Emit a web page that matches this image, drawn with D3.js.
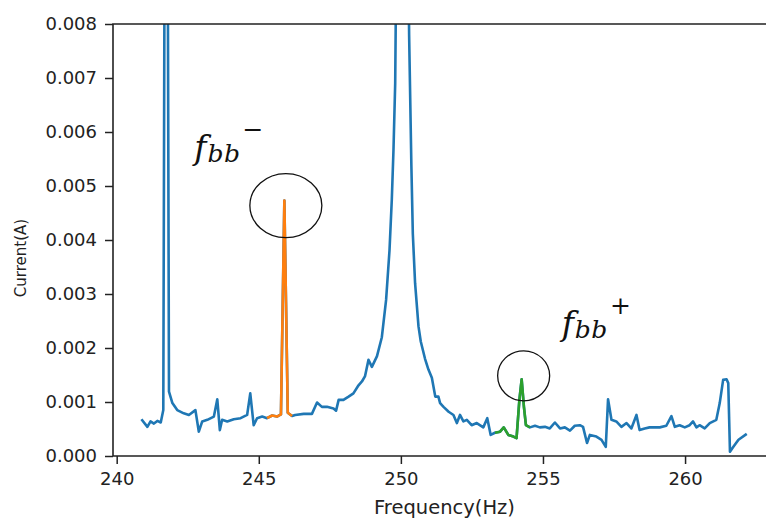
<!DOCTYPE html>
<html>
<head>
<meta charset="utf-8">
<script src="https://cdnjs.cloudflare.com/ajax/libs/d3/7.8.5/d3.min.js"></script>
<style>
  body { margin: 0; background: #fff; }
  .tick text { font-family: "DejaVu Sans", sans-serif; fill: #222; }
</style>
</head>
<body>
<div class="spectrum"></div>
<script>
var svgWidth = 766;
var svgHeight = 518;

// plot area (axes box is a bit wider than the picture, right side is cut off)
var margin = { top: 24, left: 113 };
var plotRight = 776;
var plotBottom = 456;

// spectrum: frequency (Hz) and current (A)
var freq = [
  240.87, 241.08, 241.19, 241.31, 241.43, 241.55, 241.64, 241.74, 241.84, 241.96,
  242.13, 242.36, 242.54, 242.77, 242.89, 243.01, 243.19, 243.42, 243.54, 243.63,
  243.71, 243.89, 244.12, 244.36, 244.59, 244.70, 244.82, 244.94, 245.12, 245.29,
  245.47, 245.64, 245.78, 245.90, 246.02, 246.17, 246.28, 246.58, 246.87, 247.05,
  247.22, 247.40, 247.63, 247.72, 247.81, 247.98, 248.16, 248.33, 248.51, 248.63,
  248.74, 248.86, 248.98, 249.16, 249.33, 249.48, 249.60, 249.68, 249.74, 249.80,
  249.92, 250.05, 250.17, 250.29, 250.37, 250.42, 250.50, 250.62, 250.70, 250.85,
  250.97, 251.09, 251.21, 251.32, 251.38, 251.50, 251.68, 251.85, 251.97, 252.08,
  252.20, 252.32, 252.49, 252.67, 252.90, 253.04, 253.16, 253.31, 253.49, 253.62,
  253.78, 253.96, 254.07, 254.17, 254.25, 254.33, 254.40, 254.54, 254.72, 254.89,
  255.07, 255.24, 255.42, 255.60, 255.77, 255.95, 256.12, 256.30, 256.41, 256.55,
  256.65, 256.88, 257.06, 257.21, 257.29, 257.41, 257.58, 257.76, 257.94, 258.11,
  258.29, 258.40, 258.58, 258.75, 258.93, 259.11, 259.34, 259.52, 259.64, 259.81,
  259.99, 260.16, 260.28, 260.40, 260.51, 260.69, 260.87, 261.10, 261.22, 261.34,
  261.46, 261.52, 261.58, 261.70, 261.88, 262.17
];

var current = [
  0.00068, 0.00054, 0.00064, 0.00060, 0.00065, 0.00062, 0.00085, 0.02000, 0.00119, 0.00098,
  0.00085, 0.00079, 0.00076, 0.00085, 0.00045, 0.00064, 0.00067, 0.00073, 0.00105, 0.00048,
  0.00067, 0.00064, 0.00068, 0.00070, 0.00076, 0.00116, 0.00057, 0.00070, 0.00073, 0.00070,
  0.00075, 0.00073, 0.00077, 0.00473, 0.00080, 0.00074, 0.00076, 0.00078, 0.00078, 0.00099,
  0.00091, 0.00091, 0.00088, 0.00084, 0.00104, 0.00104, 0.00110, 0.00116, 0.00131, 0.00138,
  0.00148, 0.00178, 0.00165, 0.00185, 0.00220, 0.00289, 0.00381, 0.00474, 0.00567, 0.00690,
  0.01400, 0.04500, 0.01400, 0.00780, 0.00536, 0.00412, 0.00320, 0.00240, 0.00212, 0.00180,
  0.00160, 0.00145, 0.00110, 0.00110, 0.00098, 0.00091, 0.00082, 0.00076, 0.00061, 0.00076,
  0.00064, 0.00067, 0.00057, 0.00061, 0.00053, 0.00070, 0.00039, 0.00043, 0.00045, 0.00053,
  0.00039, 0.00036, 0.00033, 0.00104, 0.00142, 0.00091, 0.00057, 0.00053, 0.00056, 0.00053,
  0.00054, 0.00051, 0.00062, 0.00051, 0.00053, 0.00047, 0.00056, 0.00057, 0.00054, 0.00024,
  0.00039, 0.00036, 0.00030, 0.00017, 0.00105, 0.00067, 0.00064, 0.00054, 0.00061, 0.00051,
  0.00076, 0.00048, 0.00051, 0.00053, 0.00053, 0.00053, 0.00056, 0.00074, 0.00054, 0.00057,
  0.00053, 0.00057, 0.00064, 0.00053, 0.00057, 0.00051, 0.00061, 0.00067, 0.00098, 0.00141,
  0.00142, 0.00135, 0.00008, 0.00017, 0.00030, 0.00041
];

// sideband windows highlighted in the picture
var lowerBand = [245.29, 246.17];
var upperBand = [253.31, 254.54];

var xTicks = [240, 245, 250, 255, 260];
var yTicks = [0, 0.001, 0.002, 0.003, 0.004, 0.005, 0.006, 0.007, 0.008];

var spectrum = freq.map(function (f, i) { return { f: f, c: current[i] }; });
var lowerData = spectrum.filter(d => d.f >= lowerBand[0] && d.f <= lowerBand[1]);
var upperData = spectrum.filter(d => d.f >= upperBand[0] && d.f <= upperBand[1]);

var svg = d3.select(".spectrum")
  .append("svg")
  .attr("width", svgWidth)
  .attr("height", svgHeight)
  .style("display", "block");

// scales
var x = d3.scaleLinear()
  .domain([239.87, 263.2])
  .range([margin.left, plotRight]);

var y = d3.scaleLinear()
  .domain([0, 0.008])
  .range([plotBottom, margin.top]);

svg.append("clipPath")
  .attr("id", "plotClip")
  .append("rect")
  .attr("x", margin.left)
  .attr("y", margin.top)
  .attr("width", plotRight - margin.left)
  .attr("height", plotBottom - margin.top);

var line = d3.line()
  .x(d => x(d.f))
  .y(d => y(d.c));

var lines = svg.append("g").attr("clip-path", "url(#plotClip)");

lines.append("path")
  .datum(spectrum)
  .attr("d", line)
  .attr("fill", "none")
  .attr("stroke", "#1f77b4")
  .attr("stroke-width", 2.6)
  .attr("stroke-linejoin", "round");

lines.append("path")
  .datum(lowerData)
  .attr("d", line)
  .attr("fill", "none")
  .attr("stroke", "#ff7f0e")
  .attr("stroke-width", 2.6)
  .attr("stroke-linejoin", "round");

lines.append("path")
  .datum(upperData)
  .attr("d", line)
  .attr("fill", "none")
  .attr("stroke", "#2ca02c")
  .attr("stroke-width", 2.6)
  .attr("stroke-linejoin", "round");

// axes
var xAxis = svg.append("g")
  .attr("transform", `translate(0, ${plotBottom})`)
  .call(d3.axisBottom(x).tickValues(xTicks).tickSize(8).tickPadding(8).tickFormat(d3.format("d")));

var yAxis = svg.append("g")
  .attr("transform", `translate(${margin.left}, 0)`)
  .call(d3.axisLeft(y).tickValues(yTicks).tickSize(8).tickPadding(8).tickFormat(d3.format(".3f")));

[xAxis, yAxis].forEach(function (ax) {
  ax.select(".domain").remove();
  ax.selectAll(".tick line").attr("stroke", "#222").attr("stroke-width", 1.5);
  ax.selectAll(".tick text").attr("font-size", 18);
});

// spines (top, left, bottom)
svg.append("path")
  .attr("d", `M${plotRight},${margin.top}H${margin.left}V${plotBottom}H${plotRight}`)
  .attr("fill", "none")
  .attr("stroke", "#222")
  .attr("stroke-width", 1.6);

// axis labels
svg.append("text")
  .attr("x", (margin.left + plotRight) / 2)
  .attr("y", 514)
  .attr("text-anchor", "middle")
  .attr("font-family", "DejaVu Sans, sans-serif")
  .attr("font-size", 19.5)
  .attr("fill", "#222")
  .text("Frequency(Hz)");

svg.append("text")
  .attr("transform", "translate(26, 258) rotate(-90)")
  .attr("text-anchor", "middle")
  .attr("font-family", "DejaVu Sans, sans-serif")
  .attr("font-size", 15)
  .attr("fill", "#222")
  .text("Current(A)");

// annotations: circled sideband peaks and their labels
var lowerPeak = lowerData.reduce((a, b) => (b.c > a.c ? b : a));
var upperPeak = upperData.reduce((a, b) => (b.c > a.c ? b : a));

svg.append("ellipse")
  .attr("cx", x(lowerPeak.f) + 1.5)
  .attr("cy", y(lowerPeak.c) + 5)
  .attr("rx", 36)
  .attr("ry", 32)
  .attr("fill", "none")
  .attr("stroke", "#111")
  .attr("stroke-width", 1.3);

svg.append("ellipse")
  .attr("cx", x(upperPeak.f) + 2)
  .attr("cy", y(upperPeak.c) - 3.5)
  .attr("rx", 26)
  .attr("ry", 25)
  .attr("fill", "none")
  .attr("stroke", "#111")
  .attr("stroke-width", 1.3);

function addLabel(px, py, sign) {
  var t = svg.append("text")
    .attr("x", px)
    .attr("y", py)
    .attr("font-family", "DejaVu Serif, serif")
    .attr("fill", "#111");
  t.append("tspan")
    .attr("font-style", "italic")
    .attr("font-size", 33)
    .text("f");
  t.append("tspan")
    .attr("font-style", "italic")
    .attr("font-size", 25)
    .attr("dx", 1)
    .attr("dy", 3)
    .attr("letter-spacing", 0.5)
    .text("bb");
  t.append("tspan")
    .attr("font-size", 25)
    .attr("dx", 2)
    .attr("dy", -24)
    .text(sign);
}

addLabel(x(lowerPeak.f) - 90, y(lowerPeak.c) - 42, "\u2212");
addLabel(x(upperPeak.f) + 40, y(upperPeak.c) - 44, "+");
</script>
</body>
</html>
